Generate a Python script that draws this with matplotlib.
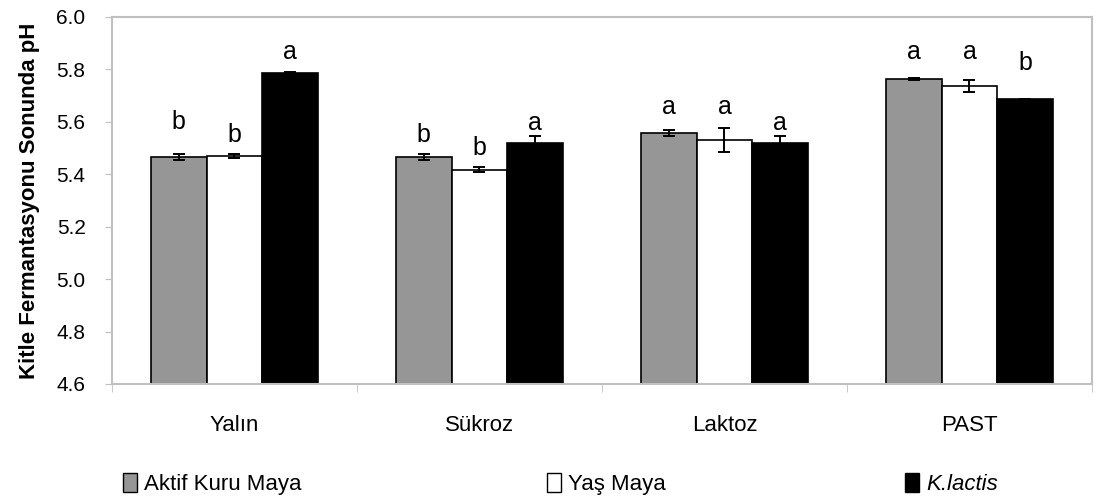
import matplotlib
matplotlib.use("Agg")
import matplotlib.pyplot as plt
import numpy as np

categories = ["Yalın", "Sükroz", "Laktoz", "PAST"]
series_names = ["Aktif Kuru Maya", "Yaş Maya", "K.lactis"]
aktif = [5.466, 5.466, 5.557, 5.763]
yas = [5.471, 5.418, 5.530, 5.737]
klactis = [5.786, 5.520, 5.520, 5.687]
aktif_err = [0.012, 0.010, 0.012, 0.005]
yas_err = [0.008, 0.010, 0.046, 0.024]
klactis_err = [0.004, 0.027, 0.025, 0.001]
aktif_lbl = ["b", "b", "a", "a"]
yas_lbl = ["b", "b", "a", "a"]
klactis_lbl = ["a", "a", "a", "b"]
# label heights (data units) as placed in the original
aktif_lbl_y = [5.60, 5.55, 5.657, 5.866]
yas_lbl_y = [5.55, 5.50, 5.657, 5.866]
klactis_lbl_y = [5.866, 5.595, 5.595, 5.824]
yticks = [4.6, 4.8, 5.0, 5.2, 5.4, 5.6, 5.8, 6.0]

font = ['Liberation Sans', 'DejaVu Sans']
plt.rcParams['font.family'] = font

fig = plt.figure(figsize=(10.98, 4.98), dpi=100)
ax = fig.add_axes([0.102, 0.229, 0.8925, 0.737])

x = np.arange(len(categories))
w = 0.228
colors = ["#969696", "#ffffff", "#000000"]
vals = [aktif, yas, klactis]
errs = [aktif_err, yas_err, klactis_err]
lbls = [aktif_lbl, yas_lbl, klactis_lbl]
lbly = [aktif_lbl_y, yas_lbl_y, klactis_lbl_y]
handles = []
for i in range(3):
    pos = x + (i - 1) * w
    b = ax.bar(pos, vals[i], w, bottom=0, color=colors[i], edgecolor="black",
               linewidth=1.2, label=series_names[i], zorder=2)
    handles.append(b)
    ax.errorbar(pos, vals[i], yerr=errs[i], fmt="none", ecolor="black",
                elinewidth=1.4, capsize=4.5, capthick=1.4, zorder=3)
    for p, t, ly in zip(pos, lbls[i], lbly[i]):
        ax.text(p, ly, t, ha="center", va="center", fontsize=18)

ax.set_ylim(4.6, 6.0)
ax.set_xlim(-0.5, len(categories) - 0.5)
ax.set_yticks(yticks)
ax.set_yticklabels([f"{t:.1f}" for t in yticks], fontsize=15)
ax.set_xticks(x)
ax.set_xticklabels(categories, fontsize=16)
ax.set_xticks(np.arange(len(categories) + 1) - 0.5, minor=True)
ax.tick_params(axis="x", which="major", length=0, pad=22)
ax.tick_params(axis="x", which="minor", length=6, color="#c0c0c0")
ax.tick_params(axis="y", length=5, color="#c0c0c0", pad=14)
for s in ax.spines.values():
    s.set_color("#c0c0c0")
    s.set_linewidth(1.5)
ax.set_ylabel("Kitle Fermantasyonu Sonunda pH", fontsize=16, fontweight="bold",
              labelpad=12)

legend_x = [0.112, 0.498, 0.824]
for hnd, name, lx in zip(handles, series_names, legend_x):
    leg = fig.legend(handles=[hnd], labels=[name], loc="center left",
                     bbox_to_anchor=(lx, 0.028), frameon=False, fontsize=16,
                     handlelength=0.65, handleheight=0.9, handletextpad=0.3,
                     borderaxespad=0, borderpad=0)
    if name == "K.lactis":
        leg.get_texts()[0].set_fontstyle("italic")
    for h in leg.legend_handles:
        h.set_linewidth(1.0)

fig.savefig("out.png", dpi=100)
